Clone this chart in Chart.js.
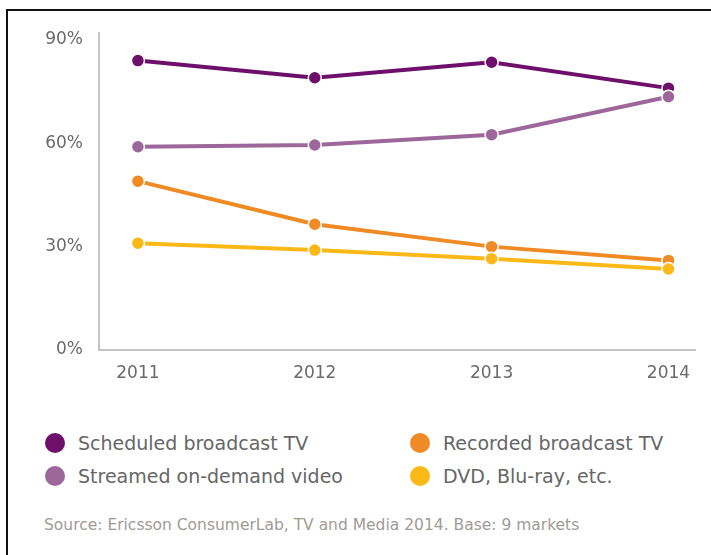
<!DOCTYPE html>
<html>
<head>
<meta charset="utf-8">
<script src="https://cdn.jsdelivr.net/npm/chart.js@4"></script>
<style>
  html, body { margin: 0; padding: 0; background: #fff; }
  body { width: 711px; height: 555px; position: relative; overflow: hidden; font-family: "DejaVu Sans", sans-serif; }
  #frame { position: absolute; left: 6px; top: 9px; right: -10px; bottom: -10px; border-top: 2px solid #111; border-left: 2px solid #111; }
  #wrap { position: absolute; left: 0; top: 0; width: 711px; height: 400px; }
  #legend { position: absolute; left: 0; top: 428px; width: 711px; }
  .item { position: absolute; height: 30px; font-size: 19px; color: #666; white-space: nowrap; line-height: 30px; }
  .dot { position: absolute; left: 0; top: 5px; width: 20px; height: 20px; border-radius: 50%; }
  .item span.t { position: absolute; left: 33px; top: 0; }
  #source { position: absolute; left: 44px; top: 516px; font-size: 15.5px; color: #a09a96; white-space: nowrap; }
</style>
</head>
<body>
<div id="frame"></div>
<div id="wrap"><canvas id="line-chart0"></canvas></div>
<div id="legend"></div>
<div id="source">Source: Ericsson ConsumerLab, TV and Media 2014. Base: 9 markets</div>
<script>
var years = [2011, 2012, 2013, 2014];
var yTicks = [0, 30, 60, 90];

var scheduled = [84, 79, 83.5, 76];
var streamed = [59, 59.5, 62.5, 73.5];
var recorded = [49, 36.5, 30, 26];
var dvd = [31, 29, 26.5, 23.5];

var names = ["Scheduled broadcast TV", "Recorded broadcast TV", "Streamed on-demand video", "DVD, Blu-ray, etc."];
var colors = ["#6e0f6b", "#f08a24", "#9d679b", "#fbb817"];

function toPoints(vals) {
    return vals.map(function (v, i) { return { x: years[i], y: v }; });
}

function makeSet(i, vals, order) {
    return {
        label: names[i],
        data: toPoints(vals),
        borderColor: colors[i],
        backgroundColor: colors[i],
        pointBackgroundColor: colors[i],
        pointBorderColor: '#fff',
        pointBorderWidth: 1.5,
        pointRadius: 6.5,
        borderWidth: 4,
        tension: 0,
        order: order
    };
}

var chartData = {
    datasets: [
        makeSet(0, scheduled, 2),
        makeSet(1, recorded, 3),
        makeSet(2, streamed, 0),
        makeSet(3, dvd, 1)
    ]
};

var tickFont = { family: "'DejaVu Sans', sans-serif", size: 17 };

var chartOptions = {
    responsive: true,
    maintainAspectRatio: false,
    animation: false,
    layout: { padding: { left: 0, right: 16, top: 33, bottom: 0 } },
    plugins: {
        legend: { display: false },
        tooltip: { enabled: false }
    },
    scales: {
        x: {
            type: 'linear',
            min: 2010.78,
            max: 2014.15,
            afterBuildTicks: function (axis) {
                axis.ticks = years.map(function (y) { return { value: y }; });
            },
            afterFit: function (axis) { axis.height = 50; },
            grid: { display: false, drawTicks: false },
            border: { display: true, color: '#c4c4c4', width: 2 },
            ticks: {
                color: '#6a6a6a',
                font: tickFont,
                padding: 13,
                maxRotation: 0,
                callback: function (v) { return String(v); }
            }
        },
        y: {
            min: 0,
            max: 92,
            afterBuildTicks: function (axis) {
                axis.ticks = yTicks.map(function (v) { return { value: v }; });
            },
            afterFit: function (axis) { axis.width = 99; },
            grid: { display: false, drawTicks: false },
            border: { display: true, color: '#c4c4c4', width: 2 },
            ticks: {
                color: '#6a6a6a',
                font: tickFont,
                padding: 16,
                callback: function (v) { return v + '%'; }
            }
        }
    }
};

var lineChart = new Chart(document.getElementById("line-chart0"), {
    type: 'line',
    data: chartData,
    options: chartOptions
});

// legend in two columns, built from the same names/colours
var legendPos = [[45, 0], [410, 0], [45, 33], [410, 33]];
var legend = document.getElementById('legend');
names.forEach(function (n, i) {
    var el = document.createElement('div');
    el.className = 'item';
    el.style.left = legendPos[i][0] + 'px';
    el.style.top = legendPos[i][1] + 'px';
    el.innerHTML = '<div class="dot" style="background:' + colors[i] + '"></div><span class="t"></span>';
    el.querySelector('.t').textContent = n;
    legend.appendChild(el);
});
</script>
</body>
</html>
